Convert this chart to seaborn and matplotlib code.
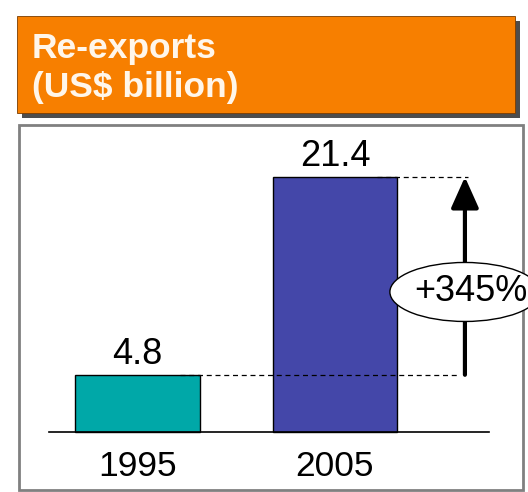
import matplotlib
matplotlib.use('Agg')
import matplotlib.pyplot as plt
import seaborn as sns
from matplotlib.patches import Rectangle, Ellipse

# Data
years = ['1995', '2005']
reexports = [4.8, 21.4]
bar_colors = ['#00A8A8', '#4447A9']
growth_label = '+345%'
title_lines = ['Re-exports', '(US$ billion)']

sns.set_style('white')
plt.rcParams['font.family'] = ['Liberation Sans', 'DejaVu Sans']
plt.rcParams['text.color'] = 'black'

W, H = 528, 492
fig = plt.figure(figsize=(W / 100, H / 100), dpi=100)


def fx(px):
    return px / W


def fy(py):
    return 1 - py / H


# orange header with shadow
fig.patches.append(Rectangle((fx(22), fy(118)), (515 - 17) / W, (113 - 16) / H,
                             transform=fig.transFigure, facecolor='#4d4d4d',
                             edgecolor='none', zorder=-6))
fig.patches.append(Rectangle((fx(17), fy(113)), (515 - 17) / W, (113 - 16) / H,
                             transform=fig.transFigure, facecolor='#F77F00',
                             edgecolor='#7a3c00', linewidth=0.6, zorder=-5))
fig.text(fx(32), fy(58), title_lines[0], color='#FFF6EA', fontsize=25.5,
         fontweight='bold', va='baseline')
fig.text(fx(32), fy(97), title_lines[1], color='#FFF6EA', fontsize=25.5,
         fontweight='bold', va='baseline')

# panel frame
fig.patches.append(Rectangle((fx(19), fy(490)), (523 - 19) / W, (490 - 125) / H,
                             transform=fig.transFigure, facecolor='white',
                             edgecolor='#808080', linewidth=2, zorder=-5))

ax = fig.add_axes([fx(19), fy(490), (522 - 19) / W, (490 - 125) / H])
ax.patch.set_alpha(0)

sns.barplot(x=years, y=reexports, hue=years, palette=bar_colors, legend=False,
            width=0.63, saturation=1, edgecolor='black', linewidth=1, ax=ax)

ax.set_xlim(-0.6, 1.947)
ax.set_ylim(-4.867, 25.76)

for c in ax.containers:
    ax.bar_label(c, labels=[f'{v:.1f}' for v in c.datavalues], fontsize=26,
                 padding=2, color='black')

for s in ['top', 'right', 'left']:
    ax.spines[s].set_visible(False)
ax.spines['bottom'].set_position(('data', 0))
ax.spines['bottom'].set_bounds(-0.448, 1.78)
ax.spines['bottom'].set_color('black')
ax.spines['bottom'].set_linewidth(1.2)
ax.set_yticks([])
ax.tick_params(axis='x', length=0, pad=13, labelsize=25.5, colors='black')
ax.set_xlabel('')
ax.set_ylabel('')

# dashed guide lines and growth arrow
ax.hlines(reexports[1], 1.213, 1.673, colors='black', linestyles=(0, (4, 3)),
          linewidth=0.9, zorder=5)
ax.hlines(reexports[0], 0.215, 1.633, colors='black', linestyles=(0, (4, 3)),
          linewidth=0.9, zorder=5)
ax.annotate('', xy=(1.658, reexports[1]), xytext=(1.658, reexports[0]),
            arrowprops=dict(arrowstyle='-|>,head_width=0.85,head_length=1.9',
                            lw=3, color='black', shrinkA=0, shrinkB=0,
                            mutation_scale=10), zorder=6)
ax.add_patch(Ellipse((1.658, 11.75), 0.76, 4.95, facecolor='white',
                     edgecolor='black', linewidth=1, zorder=7, clip_on=False))
ax.text(1.69, 11.75, growth_label, fontsize=26, ha='center', va='center',
        color='black', zorder=8, clip_on=False)

fig.savefig('out.png', dpi=100)
